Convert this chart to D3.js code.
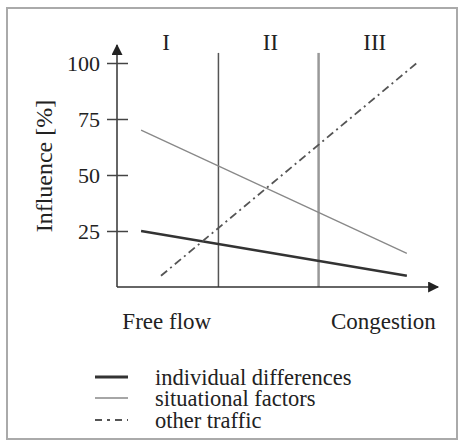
<!DOCTYPE html>
<html><head><meta charset="utf-8">
<script src="https://cdn.jsdelivr.net/npm/d3@7"></script>
<style>body{margin:0;background:#fff}svg text{font-family:"Liberation Serif","Times New Roman",serif;fill:#222}</style>
</head><body><svg id="c" width="458" height="442"></svg>
<script>
const yTicks = [25, 50, 75, 100];
const regionBounds = [31.6, 62.8];
const regionLabels = ["I", "II", "III"];
const regionLabelX = [15.3, 47.8, 80.3];
const xEndLabels = ["Free flow", "Congestion"];
const xEndLabelX = [15.5, 83];
const seriesNames = ["individual differences", "situational factors", "other traffic"];
const individualX = [7.5, 90.3];
const individualY = [25, 5];
const situationalX = [7.5, 90.3];
const situationalY = [70, 15];
const otherX = [13.7, 93.4];
const otherY = [5, 100];

const svg = d3.select("#c");
const x = d3.scaleLinear().domain([0, 100]).range([117, 438]);
const y = d3.scaleLinear().domain([0, 100]).range([287, 63]);

// frame
svg.append("rect").attr("x", 7).attr("y", 8).attr("width", 450).attr("height", 431)
  .attr("fill", "none").attr("stroke", "#aaa").attr("stroke-width", 2);

// region separators
svg.selectAll("line.sep").data(regionBounds).join("line")
  .attr("x1", d => x(d)).attr("x2", d => x(d)).attr("y1", y(104.5)).attr("y2", y(0))
  .attr("stroke", (d, i) => i === 0 ? "#555" : "#999").attr("stroke-width", (d, i) => i === 0 ? 1.5 : 2.5);

// axes
const defs = svg.append("defs");
defs.append("marker").attr("id", "arr").attr("viewBox", "0 0 10 10").attr("refX", 9).attr("refY", 5)
  .attr("markerWidth", 13).attr("markerHeight", 11).attr("markerUnits", "userSpaceOnUse").attr("orient", "auto")
  .append("path").attr("d", "M0,0L10,5L0,10Z").attr("fill", "#222");
svg.append("line").attr("x1", x(0)).attr("x2", x(0)).attr("y1", y(0)).attr("y2", y(108))
  .attr("stroke", "#333").attr("stroke-width", 1.5).attr("marker-end", "url(#arr)");
svg.append("line").attr("x1", x(0)).attr("x2", x(100)).attr("y1", y(0)).attr("y2", y(0))
  .attr("stroke", "#333").attr("stroke-width", 1.5).attr("marker-end", "url(#arr)");

const yAxis = d3.axisLeft(y).tickValues(yTicks).tickSize(10).tickPadding(8);
const gy = svg.append("g").attr("transform", `translate(${x(0)},0)`).call(yAxis);
gy.select(".domain").remove();
gy.selectAll(".tick line").attr("x2", 11).attr("x1", -10).attr("stroke", "#444").attr("stroke-width", 1.5);
gy.selectAll(".tick text").attr("x", -17).attr("font-size", 22).attr("fill", "#222");

// y label
svg.append("text").attr("transform", `translate(52,${y(54)}) rotate(-90)`).attr("text-anchor", "middle")
  .attr("font-size", 24).text("Influence [%]");

// region labels
svg.selectAll("text.reg").data(regionLabels).join("text")
  .attr("x", (d, i) => x(regionLabelX[i])).attr("y", 50).attr("text-anchor", "middle")
  .attr("font-size", 23).text(d => d);

// end labels
svg.selectAll("text.end").data(xEndLabels).join("text")
  .attr("x", (d, i) => x(xEndLabelX[i])).attr("y", 329).attr("text-anchor", "middle")
  .attr("font-size", 23).text(d => d);

// series
const styles = [
  {c: "#333", w: 2.4, dash: null},
  {c: "#888", w: 1.3, dash: null},
  {c: "#555", w: 1.8, dash: "8,4,2,4"}
];
const series = [
  individualX.map((v, i) => [v, individualY[i]]),
  situationalX.map((v, i) => [v, situationalY[i]]),
  otherX.map((v, i) => [v, otherY[i]])
];
const line = d3.line().x(d => x(d[0])).y(d => y(d[1]));
svg.selectAll("path.s").data(series).join("path")
  .attr("d", line).attr("fill", "none")
  .attr("stroke", (d, i) => styles[i].c).attr("stroke-width", (d, i) => styles[i].w)
  .attr("stroke-dasharray", (d, i) => styles[i].dash);

// legend
const lg = svg.append("g");
const rowY = [377, 398, 420];
seriesNames.forEach((n, i) => {
  lg.append("line").attr("x1", 95).attr("x2", 128).attr("y1", rowY[i]).attr("y2", rowY[i])
    .attr("stroke", styles[i].c).attr("stroke-width", styles[i].w + (i === 0 ? 0.8 : 0))
    .attr("stroke-dasharray", styles[i].dash ? "7,5,3,5" : null);
  lg.append("text").attr("x", 155).attr("y", rowY[i] + 8).attr("font-size", 22.5).text(n);
});
</script></body></html>
